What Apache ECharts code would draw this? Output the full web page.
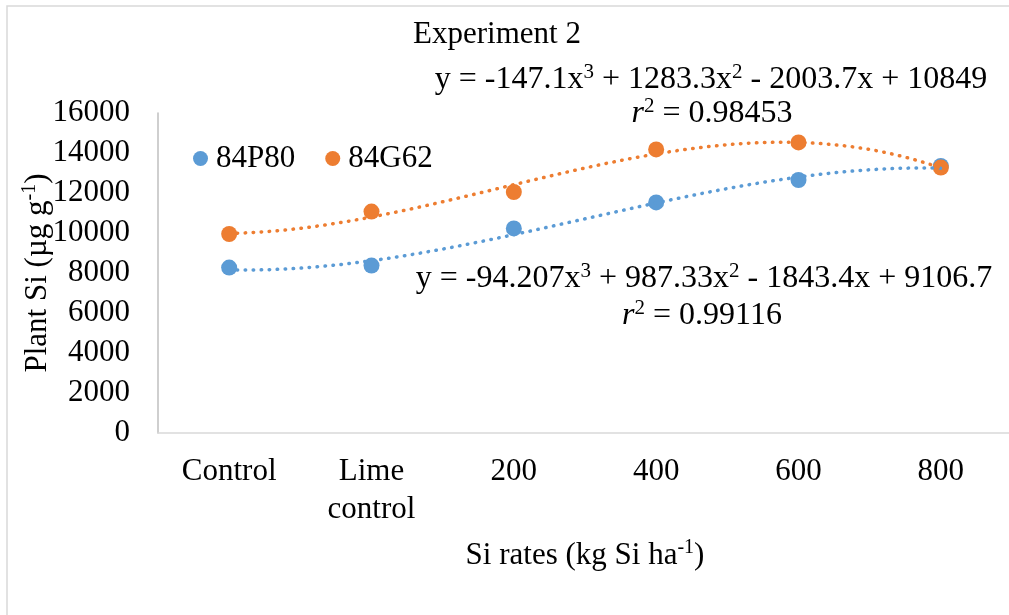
<!DOCTYPE html>
<html>
<head>
<meta charset="utf-8">
<script src="https://cdn.jsdelivr.net/npm/echarts@6/dist/echarts.min.js"></script>
<style>
html,body{margin:0;padding:0;background:#fff;}
#chart{width:1009px;height:615px;}
</style>
</head>
<body>
<div id="chart"></div>
<script>
var categories = ['Control', 'Lime\ncontrol', '200', '400', '600', '800'];
var seriesNames = ['84P80', '84G62'];
var values84P80 = [8270, 8370, 10230, 11530, 12650, 13350];
var values84G62 = [9950, 11070, 12050, 14180, 14530, 13270];
// displayed cubic trendline coefficients [a3, a2, a1, a0], x = 1..6
var trend84P80 = [-94.207, 987.33, -1843.4, 9106.7];
var trend84G62 = [-147.1, 1283.3, -2003.7, 10849];
var yTicks = [0, 2000, 4000, 6000, 8000, 10000, 12000, 14000, 16000];

var FONT = "'Liberation Serif', 'Times New Roman', serif";
var BLUE = '#5B9BD5', ORANGE = '#ED7D31';

function trendPoints(c) {
  var pts = [];
  for (var i = 0; i <= 100; i++) {
    var x = 1 + i * 5 / 100;
    pts.push([x, ((c[0] * x + c[1]) * x + c[2]) * x + c[3]]);
  }
  return pts;
}

var chart = echarts.init(document.getElementById('chart'));
var supStyle = { fontSize: 20, fontFamily: FONT, color: '#000', verticalAlign: 'top', lineHeight: 30 };
var eqRich = {
  sup: { fontSize: 21, fontFamily: FONT, fill: '#000', verticalAlign: 'top', lineHeight: 30 },
  n: { fontSize: 32, fontFamily: FONT, fill: '#000', lineHeight: 36 },
  i: { fontSize: 32, fontFamily: FONT, fill: '#000', fontStyle: 'italic', lineHeight: 36 }
};
function eqText(x, y, text) {
  return { type: 'text', x: x, y: y, style: { text: text, font: '32px ' + FONT, fill: '#000', align: 'center', verticalAlign: 'middle', rich: eqRich } };
}
chart.setOption({
  animation: false,
  backgroundColor: '#fff',
  textStyle: { fontFamily: FONT },
  grid: { left: 158, right: -3, top: 113, bottom: 182, containLabel: false, outerBoundsMode: 'none' },
  legend: {
    data: seriesNames,
    left: 188, top: 138,
    icon: 'circle', itemWidth: 15, itemHeight: 15, itemGap: 30,
    itemStyle: { opacity: 1 },
    textStyle: { fontSize: 31, fontFamily: FONT, color: '#000', padding: [0, 0, 0, 3] }
  },
  xAxis: [{
    type: 'category', data: categories, boundaryGap: true,
    axisLine: { show: true, lineStyle: { color: '#d9d9d9', width: 1.5 } },
    axisTick: { show: false },
    axisLabel: { fontSize: 31, fontFamily: FONT, color: '#000', margin: 20, lineHeight: 38, interval: 0 },
    splitLine: { show: false },
    name: 'Si rates (kg Si ha{sup|-1})', nameLocation: 'middle', nameGap: 105, nameMoveOverlap: false,
    nameTextStyle: { fontSize: 31, fontFamily: FONT, color: '#000', lineHeight: 36, rich: { sup: supStyle } }
  }, {
    type: 'value', min: 0.5, max: 6.5, show: false
  }],
  yAxis: {
    type: 'value', min: yTicks[0], max: yTicks[yTicks.length - 1], interval: yTicks[1] - yTicks[0],
    axisLine: { show: true, lineStyle: { color: '#bfbfbf', width: 1.5 } },
    axisTick: { show: false },
    splitLine: { show: false },
    axisLabel: { fontSize: 31, fontFamily: FONT, color: '#000', margin: 28, formatter: function (v) { return String(v); } },
    name: 'Plant Si (µg g{sup|-1})', nameLocation: 'middle', nameGap: 102, nameMoveOverlap: false,
    nameTextStyle: { fontSize: 31, fontFamily: FONT, color: '#000', lineHeight: 36, rich: { sup: supStyle } }
  },
  graphic: [
    { type: 'rect', shape: { x: 7, y: 6, width: 1100, height: 700 }, style: { fill: 'none', stroke: '#d9d9d9', lineWidth: 1.5 }, silent: true, z: -10 },
    { type: 'text', x: 497, y: 35, style: { text: 'Experiment 2', font: '31px ' + FONT, fill: '#000', align: 'center', verticalAlign: 'middle' } },
    eqText(711, 80, '{n|y = -147.1x}{sup|3}{n| + 1283.3x}{sup|2}{n| - 2003.7x + 10849}'),
    eqText(712, 114, '{i|r}{sup|2}{n| = 0.98453}'),
    eqText(704, 279, '{n|y = -94.207x}{sup|3}{n| + 987.33x}{sup|2}{n| - 1843.4x + 9106.7}'),
    eqText(702, 316, '{i|r}{sup|2}{n| = 0.99116}')
  ],
  series: [
    { name: seriesNames[0], type: 'scatter', data: values84P80, symbol: 'circle', symbolSize: 16, itemStyle: { color: BLUE, opacity: 1 }, z: 3 },
    { name: seriesNames[1], type: 'scatter', data: values84G62, symbol: 'circle', symbolSize: 16, itemStyle: { color: ORANGE, opacity: 1 }, z: 3 },
    { name: 'trend84P80', type: 'line', xAxisIndex: 1, data: trendPoints(trend84P80), showSymbol: false, symbol: 'none', smooth: false,
      lineStyle: { color: BLUE, width: 3.5, type: [0.5, 7.5], cap: 'round' }, z: 4 },
    { name: 'trend84G62', type: 'line', xAxisIndex: 1, data: trendPoints(trend84G62), showSymbol: false, symbol: 'none', smooth: false,
      lineStyle: { color: ORANGE, width: 3.5, type: [0.5, 7.5], cap: 'round' }, z: 4 }
  ]
});
</script>
</body>
</html>
